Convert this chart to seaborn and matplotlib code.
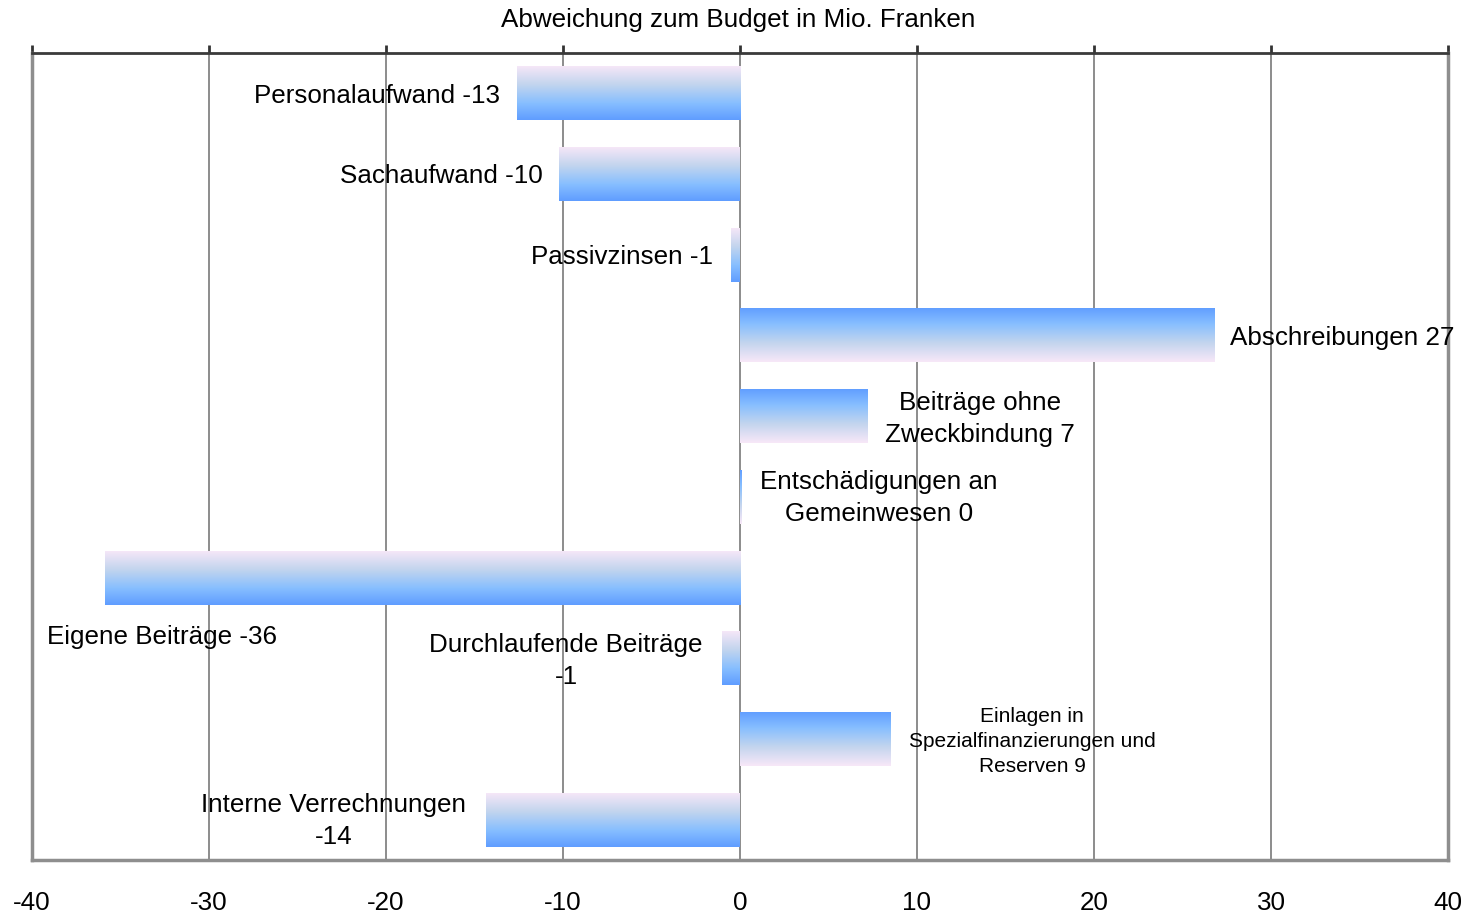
import numpy as np
import pandas as pd
import matplotlib
matplotlib.use("Agg")
import matplotlib.pyplot as plt
import seaborn as sns
from matplotlib.colors import LinearSegmentedColormap

# ---- data ----
categories = ["Personalaufwand", "Sachaufwand", "Passivzinsen", "Abschreibungen",
              "Beiträge ohne Zweckbindung", "Entschädigungen an Gemeinwesen",
              "Eigene Beiträge", "Durchlaufende Beiträge",
              "Einlagen in Spezialfinanzierungen und Reserven", "Interne Verrechnungen"]
values = [-12.6, -10.2, -0.5, 26.8, 7.2, 0.1, -35.9, -1.0, 8.5, -14.35]
bar_labels = ["Personalaufwand -13", "Sachaufwand -10", "Passivzinsen -1",
              "Abschreibungen 27", "Beiträge ohne\nZweckbindung 7",
              "Entschädigungen an\nGemeinwesen 0", "Eigene Beiträge -36",
              "Durchlaufende Beiträge\n-1",
              "Einlagen in\nSpezialfinanzierungen und\nReserven 9",
              "Interne Verrechnungen\n-14"]
x_ticks = [-40, -30, -20, -10, 0, 10, 20, 30, 40]
title = "Abweichung zum Budget in Mio. Franken"

# ---- layout of labels (x in data units, y offset, alignment, size) ----
FS = 18.7
label_layout = [
    (-13.56, 0.03, "right", FS),
    (-11.13, 0.02, "right", FS),
    (-1.53, 0.03, "right", FS),
    (27.68, 0.03, "left", FS),
    (13.56, 0.03, "center", FS),
    (7.85, 0.02, "center", FS),
    (-39.15, 0.74, "left", FS),
    (-9.83, 0.03, "center", FS),
    (16.5, 0.03, "center", 15),
]
label_layout.append((-22.94, 0.02, "center", FS))

df = pd.DataFrame({"cat": categories, "val": values})

sns.set_theme(style="white")
plt.rcParams["font.family"] = ["Liberation Sans", "DejaVu Sans"]

fig = plt.figure(figsize=(14.73, 9.13), dpi=100)
ax = fig.add_axes([32 / 1473, 1 - 860 / 913, (1448 - 32) / 1473, (860 - 53) / 913])

sns.barplot(data=df, x="val", y="cat", orient="h", width=0.67, ax=ax,
            color="#86BEFF", zorder=2)

cmap = LinearSegmentedColormap.from_list(
    "grad", [(0.0, "#F8E8F8"), (0.35, "#C3D5EE"), (0.7, "#86BEFF"), (1.0, "#5F9DFF")])
grad = np.linspace(0, 1, 256).reshape(-1, 1)

for patch, v in zip(ax.patches, values):
    x0, y0 = patch.get_x(), patch.get_y()
    w, h = patch.get_width(), patch.get_height()
    patch.set_facecolor("none")
    patch.set_edgecolor("none")
    g = grad if v < 0 else grad[::-1]
    im = ax.imshow(g, cmap=cmap, aspect="auto", origin="lower",
                   extent=(min(x0, x0 + w), max(x0, x0 + w), y0, y0 + h),
                   zorder=2, interpolation="bilinear")
    im.set_clip_path(patch)

ax.set_xlim(-40, 40)
ax.set_ylim(len(categories) - 0.5, -0.5)
ax.set_aspect("auto")

# grid
for t in x_ticks[1:-1]:
    ax.axvline(t, color="#6e6e6e", lw=1.1, zorder=1)

ax.set_xticks(x_ticks)
ax.set_xticklabels([str(t) for t in x_ticks], fontsize=FS, color="black")
ax.tick_params(axis="x", top=True, bottom=False, labeltop=False, labelbottom=True,
               direction="out", length=6, width=2, color="#333333", pad=16)
ax.set_yticks([])
ax.set_xlabel("")
ax.set_ylabel("")

for side in ["left", "right", "bottom"]:
    ax.spines[side].set_color("#8e8e8e")
    ax.spines[side].set_linewidth(2.5)
ax.spines["top"].set_color("#3a3a3a")
ax.spines["top"].set_linewidth(2)

for i, (txt, (lx, dy, ha, fs)) in enumerate(zip(bar_labels, label_layout)):
    ax.text(lx, i + dy, txt, ha=ha, va="center", multialignment="center",
            fontsize=fs, color="black", zorder=5, linespacing=1.42)

fig.text(738 / 1473, 1 - 20 / 913, title, ha="center", va="center",
         fontsize=FS, color="black")

fig.savefig("out.png", dpi=100)
